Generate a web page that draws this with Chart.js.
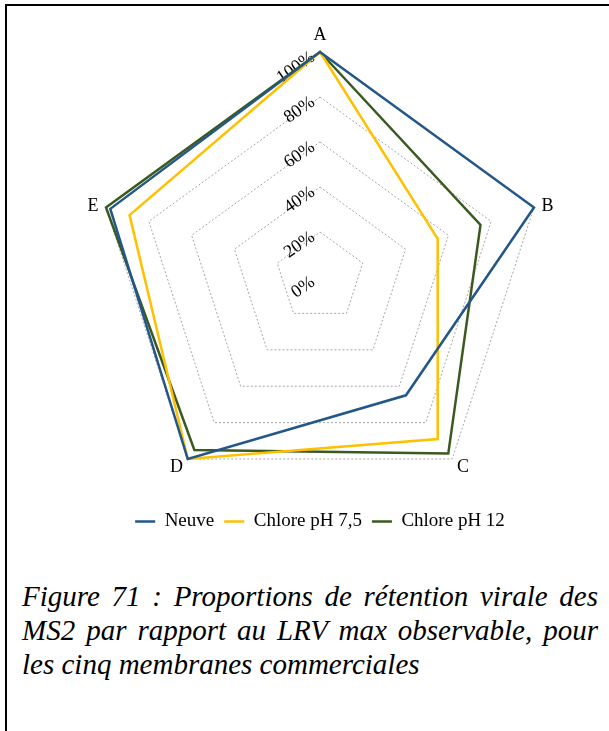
<!DOCTYPE html>
<html>
<head>
<meta charset="utf-8">
<script src="https://cdn.jsdelivr.net/npm/chart.js@4"></script>
<style>
  html, body { margin: 0; padding: 0; background: #fff; }
  body { width: 609px; height: 731px; position: relative; overflow: hidden; }
  .frame { position: absolute; left: 5px; top: 4px; right: 0; bottom: 0;
           border-left: 2px solid #000; border-top: 2px solid #000; }
  .plot { position: absolute; left: 0; top: 0; width: 609px; height: 541px; }
  .caption { position: absolute; left: 22px; top: 579px; width: 576px;
             font: italic 29px "Liberation Serif", "Times New Roman", serif;
             line-height: 34px; color: #000; }
  .caption div { white-space: nowrap; }
  .caption .just { text-align: justify; text-align-last: justify; white-space: normal; }
</style>
</head>
<body>
<div class="frame"></div>
<div class="plot"><canvas id="radar"></canvas></div>
<div class="caption">
  <div class="just">Figure 71 : Proportions de rétention virale des</div>
  <div class="just">MS2 par rapport au LRV max observable, pour</div>
  <div>les cinq membranes commerciales</div>
</div>
<script>
// membranes (axes) and retention as % of the max observable LRV
var membranes = ["A", "B", "C", "D", "E"];
var neuve = [100, 100, 65, 100, 98];
var chlorePH75 = [100, 55, 89, 100, 89];
var chlorePH12 = [100, 75, 97, 95, 100];
var tickValues = [0, 20, 40, 60, 80, 100];

var serif = '"Liberation Serif", "Times New Roman", serif';

// percent labels, tilted, along the A axis
var tickLabels = {
    id: 'tickLabels',
    beforeDatasetsDraw: function (chart) {
        var scale = chart.scales.r;
        var ctx = chart.ctx;
        ctx.save();
        ctx.font = '18px ' + serif;
        ctx.fillStyle = '#000';
        ctx.textAlign = 'right';
        ctx.textBaseline = 'middle';
        tickValues.forEach(function (v) {
            var d = scale.getDistanceFromCenterForValue(v);
            ctx.save();
            ctx.translate(scale.xCenter - 7, scale.yCenter - d + 3.5);
            ctx.rotate(-35 * Math.PI / 180);
            ctx.fillText(v + '%', 0, 0);
            ctx.restore();
        });
        ctx.restore();
    }
};

// A..E names just outside the 100% ring
var axisNames = {
    id: 'axisNames',
    beforeDatasetsDraw: function (chart) {
        var scale = chart.scales.r;
        var ctx = chart.ctx;
        ctx.save();
        ctx.font = '18px ' + serif;
        ctx.fillStyle = '#000';
        membranes.forEach(function (name, i) {
            var p = scale.getPointPosition(i, scale.drawingArea + 8);
            var dx = p.x - scale.xCenter;
            if (Math.abs(dx) < 1) {
                ctx.textAlign = 'center';
                ctx.textBaseline = 'alphabetic';
                ctx.fillText(name, p.x, p.y - 4);
            } else {
                ctx.textAlign = dx > 0 ? 'left' : 'right';
                ctx.textBaseline = 'middle';
                var y = p.y > scale.yCenter + 50 ? p.y + 2 : p.y + 1;
                ctx.fillText(name, p.x, y);
            }
        });
        ctx.restore();
    }
};

var ctx = document.getElementById('radar').getContext('2d');

var chart = new Chart(ctx, {
    type: 'radar',
    data: {
        labels: membranes,
        datasets: [{
            label: "Neuve",
            data: neuve,
            borderColor: '#23578A',
            backgroundColor: '#23578A',
            borderWidth: 2.5,
        },
        {
            label: "Chlore pH 7,5",
            data: chlorePH75,
            borderColor: '#FFC000',
            backgroundColor: '#FFC000',
            borderWidth: 2.5,
        },
        {
            label: "Chlore pH 12",
            data: chlorePH12,
            borderColor: '#3A5A1F',
            backgroundColor: '#3A5A1F',
            borderWidth: 2.5,
        }]
    },
    options: {
        responsive: true,
        maintainAspectRatio: false,
        animation: false,
        elements: {
            line: { fill: false, tension: 0 },
            point: { radius: 0, hoverRadius: 0, pointStyle: 'line' }
        },
        layout: {
            padding: { left: 95, right: 64, top: 52, bottom: 0 }
        },
        scales: {
            r: {
                min: 0,
                max: 100,
                ticks: { stepSize: 20, display: false },
                angleLines: { display: false },
                pointLabels: { display: false },
                grid: { color: '#A6A6A6', lineWidth: 1 },
                border: { dash: [2, 2] }
            }
        },
        plugins: {
            tooltip: { enabled: false },
            legend: {
                position: 'bottom',
                labels: {
                    usePointStyle: true,
                    pointStyle: 'line',
                    pointStyleWidth: 20,
                    padding: 10,
                    color: '#000',
                    font: { family: serif, size: 19 }
                }
            }
        }
    },
    plugins: [tickLabels, axisNames]
});
</script>
</body>
</html>
